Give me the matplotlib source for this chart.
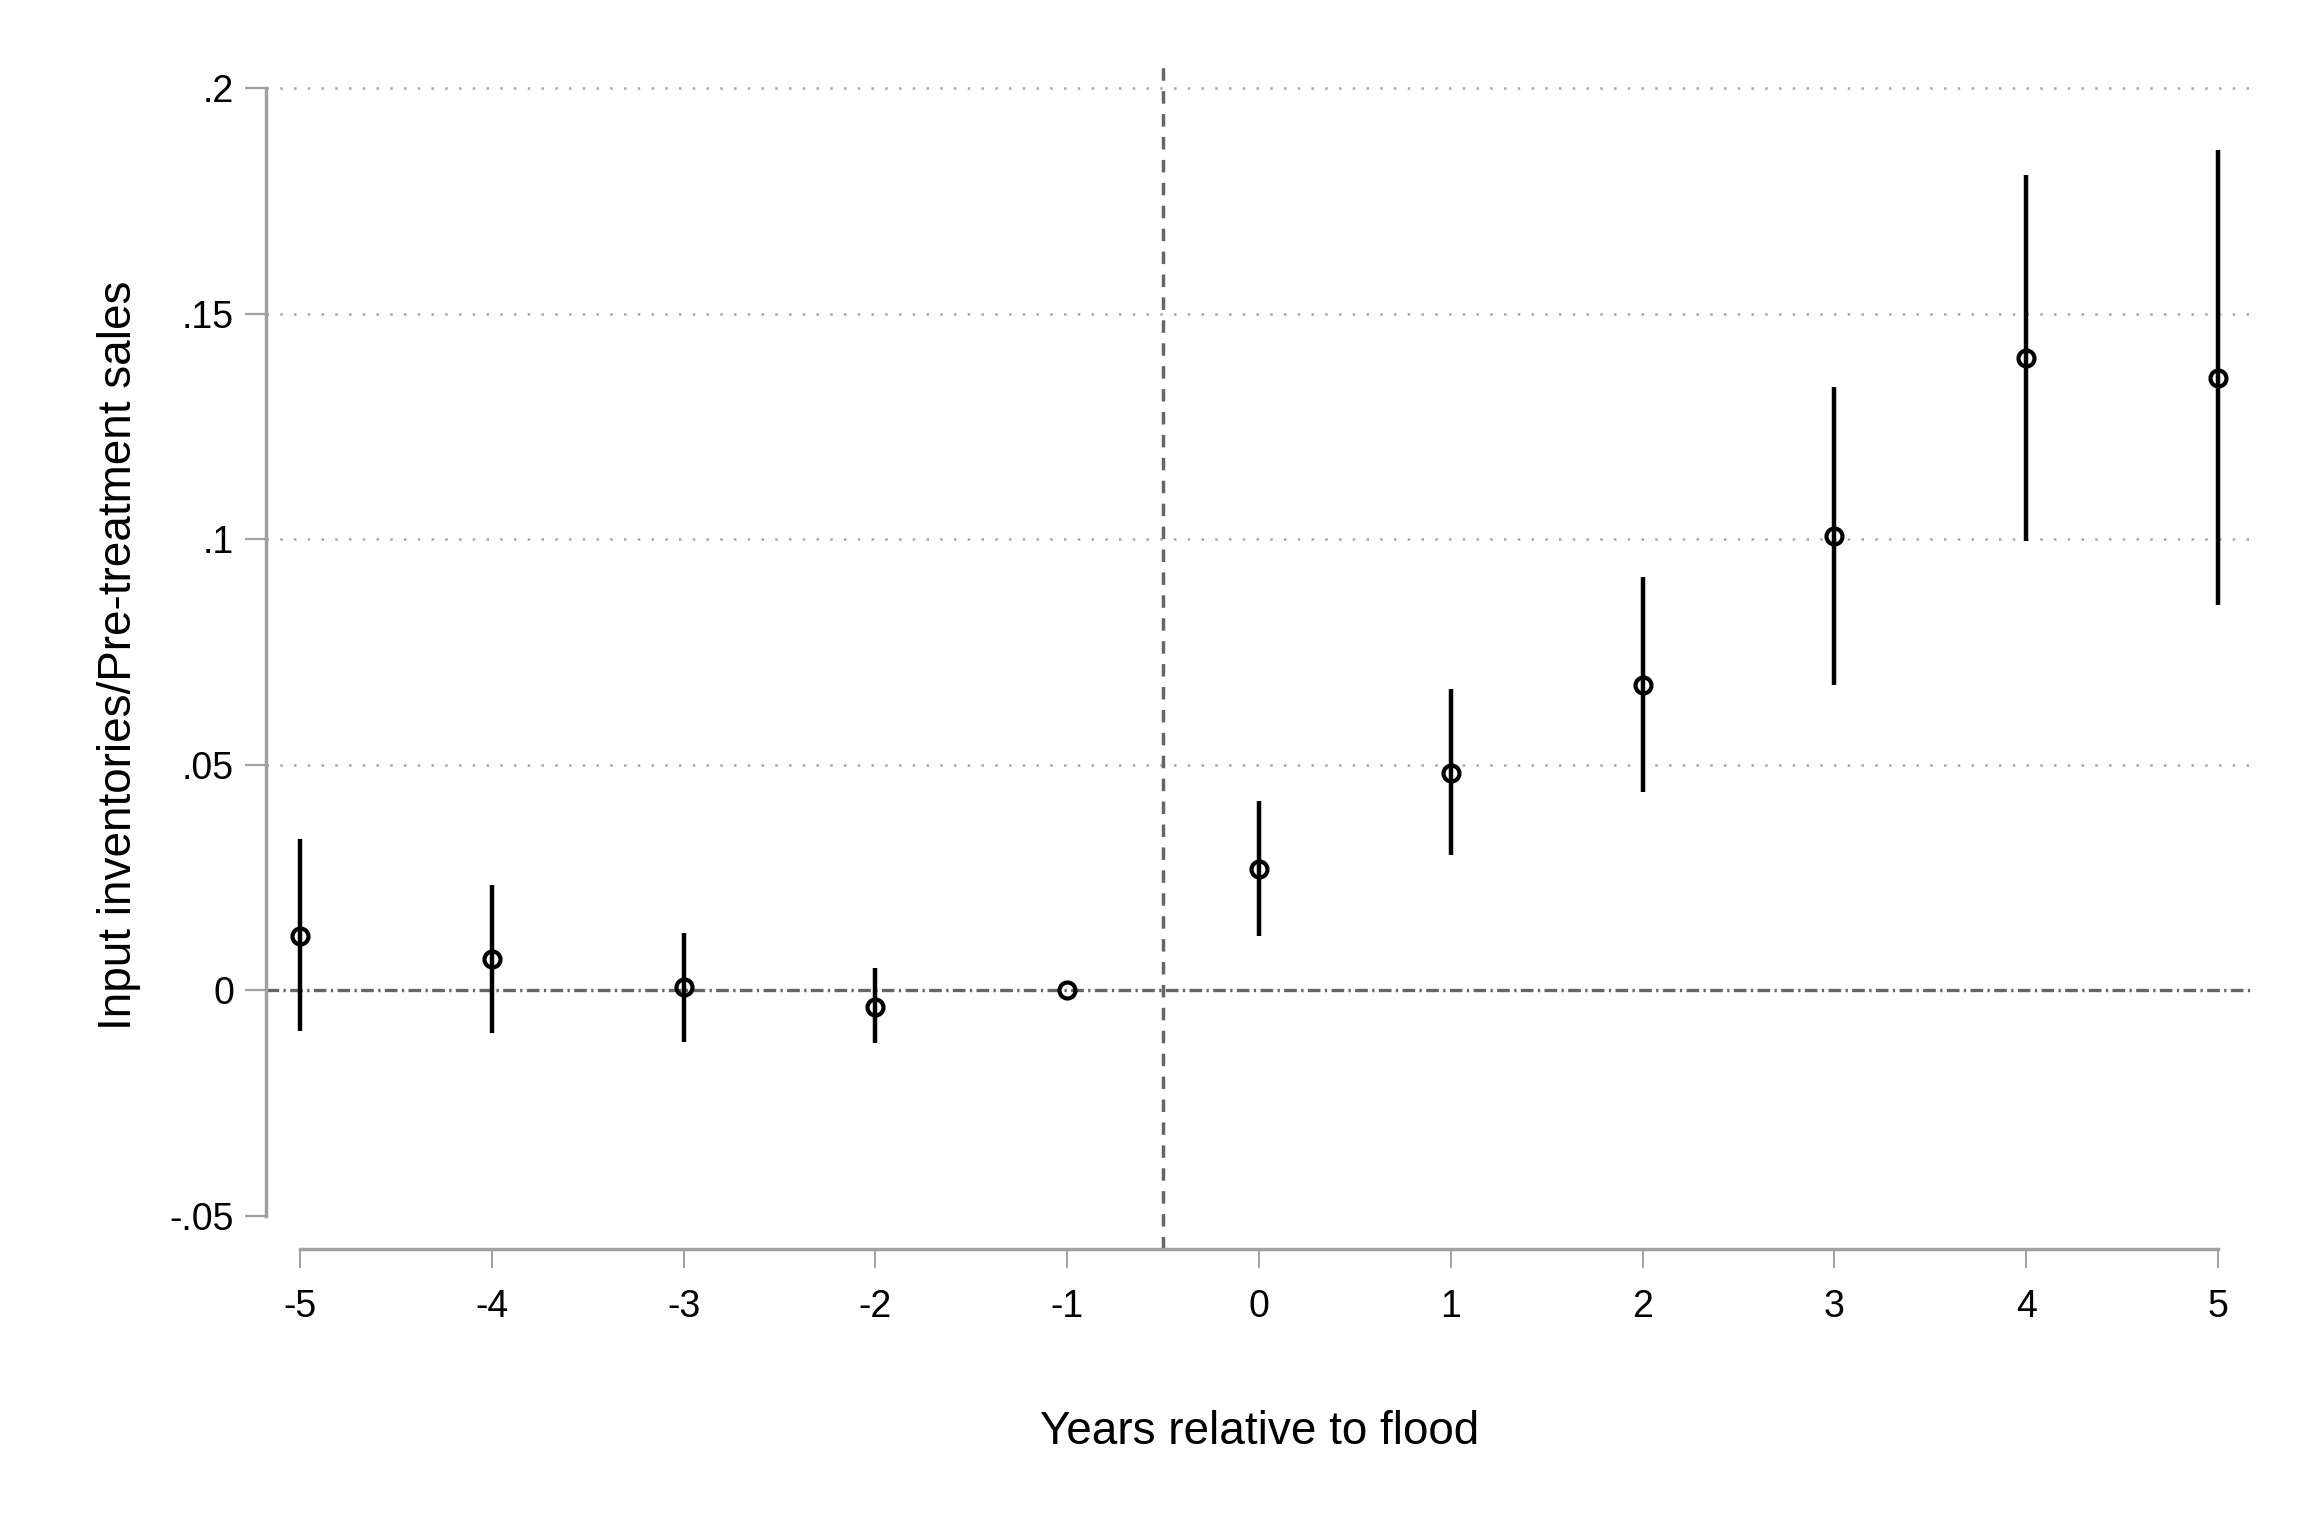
import numpy as np
import matplotlib
matplotlib.use("Agg")
import matplotlib.pyplot as plt
from matplotlib import font_manager

# ---- data ----
years = [-5, -4, -3, -2, -1, 0, 1, 2, 3, 4, 5]
coef = [0.0121, 0.0068, 0.0006, -0.0037, 0.0, 0.0268, 0.0482, 0.0676, 0.1006, 0.1401, 0.1357]
ci_low = [-0.0090, -0.0094, -0.0116, -0.0118, np.nan, 0.0121, 0.0300, 0.0439, 0.0676, 0.0996, 0.0853]
ci_high = [0.0335, 0.0232, 0.0127, 0.0048, np.nan, 0.0419, 0.0667, 0.0915, 0.1338, 0.1807, 0.1862]
ytick_vals = [-0.05, 0.0, 0.05, 0.1, 0.15, 0.2]
ytick_labels = ["-.05", "0", ".05", ".1", ".15", ".2"]
grid_vals = [0.05, 0.1, 0.15, 0.2]
xlabel = "Years relative to flood"
ylabel = "Input inventories/Pre-treatment sales"

names = {f.name for f in font_manager.fontManager.ttflist}
if "Liberation Sans Narrow" in names:
    fam, tick_fs, lab_fs = "Liberation Sans Narrow", 31, 38
else:
    fam, tick_fs, lab_fs = "Liberation Sans", 27, 33
plt.rcParams["font.family"] = [fam, "DejaVu Sans"]

fig = plt.figure(figsize=(23.08, 15.38), dpi=100)
ax = fig.add_axes([266 / 2308, 1 - 1249 / 1538, (2254 - 266) / 2308, (1249 - 61) / 1538])

axis_gray = "#a0a0a0"
line_gray = "#666666"

# grid lines
for g in grid_vals:
    ax.axhline(g, xmin=0, xmax=0.998, color="#a8a8a8", lw=1.8,
               linestyle=(0, (1, 4.5)), zorder=1)
# zero line (dash-dot)
ax.axhline(0, color=line_gray, lw=2.4, linestyle=(0, (3.8, 1.3, 0.7, 1.3)), zorder=1)
# vertical dashed line
ax.axvline(-0.5, color=line_gray, lw=2.5, linestyle=(0, (3.6, 3.0)), zorder=1)

# error bars + points
ax.vlines(years, ci_low, ci_high, color="black", lw=3.2, zorder=3)
ax.plot(years, coef, linestyle="none", marker="o", markersize=11.5,
        markerfacecolor="none", markeredgecolor="black", markeredgewidth=3.0, zorder=4)

ax.set_xlim(-5.177, 5.188)
ax.set_ylim(-0.0574, 0.206)

ax.set_xticks(years)
ax.set_xticklabels([str(y) for y in years])
ax.set_yticks(ytick_vals)
ax.set_yticklabels(ytick_labels)

for s in ["top", "right"]:
    ax.spines[s].set_visible(False)
ax.spines["left"].set_bounds(-0.05, 0.2)
ax.spines["bottom"].set_bounds(-5, 5)
for s in ["left", "bottom"]:
    ax.spines[s].set_color(axis_gray)
    ax.spines[s].set_linewidth(2.5)

ax.tick_params(axis="y", length=15, width=1.6, color=axis_gray, pad=8, labelsize=tick_fs)
ax.tick_params(axis="x", length=14, width=1.4, color=axis_gray, pad=15, labelsize=tick_fs)

ax.set_xlabel(xlabel, fontsize=lab_fs)
ax.xaxis.label.set_va("baseline")
ax.xaxis.set_label_coords(0.5, -0.1641)
ax.set_ylabel(ylabel, fontsize=lab_fs)
ax.yaxis.set_label_coords(-0.0629, 0.5)

ax.set_facecolor("white")
fig.patch.set_facecolor("white")
fig.savefig("out.png", dpi=100, facecolor="white")
